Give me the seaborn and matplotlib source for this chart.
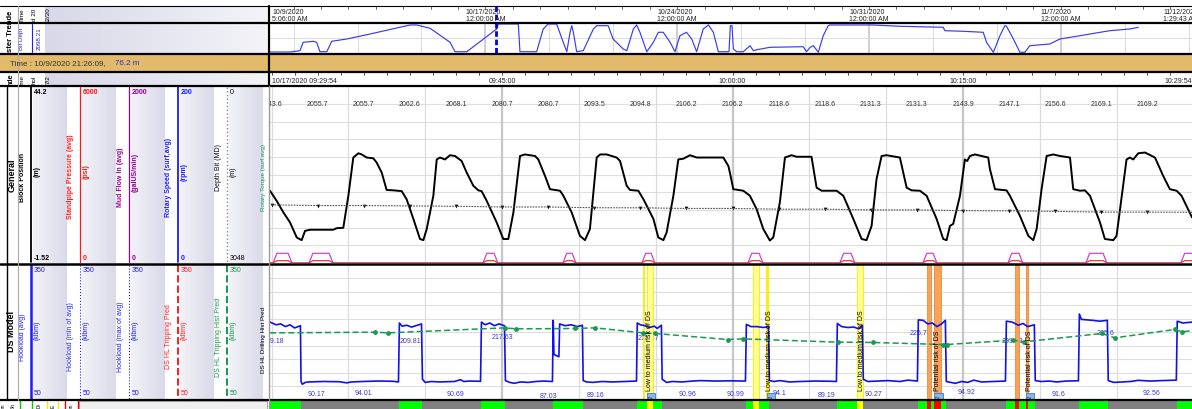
import matplotlib
matplotlib.use("Agg")
import matplotlib.pyplot as plt
import matplotlib.colors as mcolors
import numpy as np
import pandas as pd
import seaborn as sns

# ---------------- data ----------------
# master trender: days after 10/9/2020 05:06, bit depth (m)
trend_day = [-0.07, 0.66, 1.02, 1.14, 1.51, 1.63, 1.75, 2.00, 2.18, 2.73,
             3.58, 5.04, 5.28, 5.77, 6.50, 6.68, 7.11, 8.20, 8.26, 8.99,
             9.05, 9.66, 9.90, 10.08, 10.39, 10.63, 10.76, 10.88, 10.94, 11.00,
             11.12, 11.36, 11.73, 11.85, 12.27, 12.45, 12.82, 12.95, 13.19, 13.31,
             13.43, 13.68, 13.92, 14.10, 14.28, 14.53, 14.71, 14.89, 15.13, 15.32,
             15.50, 15.74, 15.93, 16.11, 16.29, 16.68, 16.73, 16.79, 16.84, 16.96,
             17.20, 17.45, 17.57, 17.69, 18.18, 19.39, 19.51, 19.64, 19.76, 19.94,
             20.12, 20.30, 20.36, 21.95, 22.92, 24.50, 24.56, 25.23, 25.96, 26.08,
             26.33, 26.57, 26.75, 26.81, 27.06, 27.30, 27.48, 27.66, 28.39, 28.76,
             29.49, 30.58, 31.31, 31.62]
trend_depth = [76, 76, 176, 821, 897, 821, 100, 100, 897, 1074,
               1457, 2148, 2148, 1894, 821, 100, 100, 1841, 2224, 2224,
               100, 100, 1841, 2224, 2224, 821, 100, 1588, 2094, 1588,
               100, 176, 1841, 2094, 2094, 1074, 307, 176, 1841, 2148,
               1588, 100, 821, 1588, 1588, 821, 100, 1327, 1588, 1074,
               100, 1841, 2148, 1588, 100, 100, 2094, 2094, 307, 100,
               100, 560, 176, 253, 437, 483, 100, 437, 560, 54,
               1327, 2094, 2148, 2148, 2048, 1971, 1710, 1664, 1588, 821,
               54, 1327, 2094, 2048, 1074, 54, 54, 560, 690, 1074,
               1327, 1710, 1841, 1971]
trend_tick_day = [0, 7.7875, 14.7875, 21.7875, 28.7875, 33.85]
trend_tick_text = ['10/9/2020\n5:06:00 AM', '10/17/2020\n12:00:00 AM', '10/24/2020\n12:00:00 AM',
                   '10/31/2020\n12:00:00 AM', '11/7/2020\n12:00:00 AM', '11/12/2020\n1:29:43 AM']
cursor_day = 8.18
cursor_text = 'Time : 10/9/2020 21:26:09,'
cursor_depth = 76.2

# detail window: minutes after 10/17/2020 09:29:54
time_tick_min = [0.13, 15.1, 30.1, 45.1, 60]
time_tick_text = ['10/17/2020 09:29:54', '09:45:00', '10:00:00', '10:15:00', '10:29:54']

# block position (m)
bp_t = [0.00, 0.43, 0.87, 1.30, 1.74, 2.06, 2.28, 2.60, 4.12, 4.34,
        4.77, 5.10, 5.42, 5.75, 5.97, 6.29, 6.72, 6.94, 7.27, 7.59,
        8.03, 8.57, 8.89, 9.33, 9.76, 9.98, 10.20, 10.63, 10.85, 11.06,
        11.39, 11.71, 12.04, 12.47, 12.80, 13.23, 13.56, 13.77, 14.10, 14.75,
        15.18, 15.51, 15.84, 16.27, 16.59, 17.25, 17.46, 17.90, 18.22, 18.87,
        19.09, 19.63, 20.17, 20.50, 20.82, 21.26, 21.48, 21.91, 22.56, 22.78,
        23.21, 23.43, 23.97, 24.30, 24.95, 25.27, 25.60, 25.81, 26.25, 26.57,
        26.90, 27.33, 27.77, 29.50, 29.83, 29.95, 30.15, 30.80, 31.23, 31.67,
        32.10, 32.53, 32.75, 33.18, 33.51, 33.94, 34.27, 35.24, 35.57, 35.90,
        36.87, 37.31, 37.96, 38.50, 38.82, 39.15, 39.47, 39.80, 40.12, 40.99,
        41.43, 41.75, 42.29, 42.73, 43.38, 43.81, 44.03, 44.25, 44.46, 44.90,
        45.22, 45.37, 45.55, 45.87, 46.74, 46.85, 47.18, 47.93, 48.15, 48.80,
        49.35, 49.67, 49.89, 50.21, 50.54, 50.97, 51.41, 52.06, 52.27, 52.71,
        53.03, 53.36, 54.01, 54.33, 54.88, 55.09, 55.74, 55.96, 56.18, 56.50,
        56.94, 57.59, 58.13, 58.56, 59.00, 59.32, 60.00]
bp_v = [17.2, 14.6, 11.6, 9.0, 5.1, 4.4, 6.8, 7.1, 7.1, 7.5,
        7.6, 15.9, 25.8, 26.9, 26.6, 25.8, 25.6, 24.5, 21.9, 17.4,
        17.3, 17.1, 15.0, 9.9, 4.7, 4.4, 7.3, 15.9, 25.3, 25.8,
        25.3, 26.4, 26.2, 24.9, 21.9, 18.5, 17.3, 17.1, 14.6, 9.0,
        4.7, 4.7, 11.6, 26.2, 26.6, 26.2, 25.3, 21.0, 17.6, 17.2,
        15.9, 11.6, 5.5, 4.4, 7.3, 25.8, 26.6, 26.6, 25.8, 24.9,
        18.5, 17.4, 17.2, 15.0, 9.9, 5.1, 4.4, 6.4, 15.9, 25.3,
        25.5, 26.4, 25.8, 25.8, 23.6, 21.5, 17.6, 17.2, 15.9, 12.4,
        7.3, 4.3, 5.1, 14.2, 25.8, 26.4, 26.0, 26.0, 18.0, 17.2,
        17.2, 15.9, 9.9, 4.7, 4.4, 8.1, 20.2, 26.2, 26.4, 25.8,
        18.0, 17.3, 17.2, 15.9, 9.9, 4.7, 4.4, 8.1, 8.6, 15.9,
        25.3, 24.9, 26.2, 26.6, 25.8, 22.8, 17.6, 17.3, 15.9, 10.7,
        5.5, 4.4, 7.3, 17.6, 26.2, 26.6, 26.2, 25.8, 17.6, 17.2,
        17.3, 15.9, 9.0, 4.7, 4.4, 5.5, 25.3, 25.8, 25.3, 26.9,
        27.1, 25.8, 21.0, 17.6, 17.2, 15.9, 10.3]

# depth bit (m), one reading every 3 min
depth_t = [0.1, 3.1, 6.1, 9.1, 12.1, 15.1, 18.1, 21.1, 24.1, 27.1,
           30.1, 33.1, 36.1, 39.1, 42.1, 45.1, 48.1, 51.1, 54.1, 57.1]
depth_v = [2043.6, 2055.7, 2055.7, 2062.6, 2068.1, 2080.7, 2080.7, 2093.5, 2094.8, 2106.2,
           2106.2, 2118.6, 2118.6, 2131.3, 2131.3, 2143.9, 2147.1, 2156.6, 2169.1, 2169.2]
depth_end = (60.0, 2172.0)

# pumps on/off (min), mud flow in (galUS/min) and standpipe pressure (psi)
pump_on = [0.20, 2.54, 13.86, 19.06, 24.20, 31.10, 37.08, 42.49, 48.02, 53.09, 59.27]
pump_off = [1.43, 4.10, 14.83, 19.91, 25.05, 32.08, 38.06, 43.40, 48.99, 54.46, 60.5]
flow_peak = 110
spp_peak = 80

# hookload avg (klbm)
hl_t = [0, 0.4, 0.7, 1.0, 1.3, 1.6, 1.98,
        2.02, 2.1, 2.3, 2.5, 3.5, 4.5, 5.0, 5.3, 6.0, 7.0, 8.0, 8.36,
        8.42, 8.6, 8.9, 9.2, 9.5, 9.86,
        9.92, 10.1, 10.5, 11.0, 11.5, 12.0, 12.4, 12.6, 13.0, 13.7,
        13.76, 14.0, 14.3, 14.6, 14.9, 15.26,
        15.32, 15.6, 15.9, 16.3, 16.8, 17.3, 17.8, 18.38,
        18.43, 18.48, 18.8, 18.85, 19.2, 19.6, 20.0, 20.33,
        20.38, 20.6, 21.0, 21.6, 22.3, 23.0, 23.85,
        23.9, 24.1, 24.4, 24.7, 25.0, 25.2, 25.47,
        25.52, 25.8, 26.2, 26.8, 27.5, 28.0, 29.0, 30.0, 30.94,
        31.0, 31.3, 31.7, 32.1, 32.44,
        32.5, 32.8, 33.2, 33.8, 34.5, 35.5, 36.5, 36.86,
        36.92, 37.2, 37.6, 38.0, 38.3, 38.55,
        38.61, 38.9, 39.5, 40.2, 41.0, 41.5, 42.13,
        42.19, 42.5, 42.8, 43.1, 43.4, 43.7, 43.95,
        44.01, 44.3, 44.6, 45.0, 45.4, 45.8, 46.3, 47.0, 47.86,
        47.92, 48.3, 48.7, 49.0, 49.3, 49.74,
        49.8, 50.2, 50.7, 51.2, 51.8, 52.61,
        52.67, 52.8, 53.5, 54.0, 54.49,
        54.55, 54.9, 55.4, 56.0, 56.5, 57.3, 58.0, 58.98,
        59.04, 59.4, 60.0]
hl_v = [222, 216, 218, 212, 216, 209, 214,
        90, 84, 88, 89, 90, 89.5, 87, 89, 90, 91, 90.5, 89,
        220, 213, 215, 211, 214, 218,
        95, 88, 90, 89, 89.5, 90, 94, 90, 91, 90.5,
        222, 216, 220, 214, 218, 214,
        92, 88, 86, 89, 88, 90, 91, 90,
        226, 150, 145, 218, 214, 216, 212, 215,
        92, 89, 88, 90, 89, 90, 91,
        220, 216, 214, 210, 213, 208, 215,
        95, 88, 90, 89, 91, 92, 91, 91.5, 91,
        217, 212, 212, 210, 212,
        92, 90, 92, 89, 90, 91, 90.5, 90,
        219, 212, 210, 211, 207, 215,
        95, 90, 91, 92, 90, 93, 91,
        227, 226, 218, 220, 212, 218, 226,
        90, 88, 86, 90, 88, 93, 89, 90, 91,
        224, 222, 215, 219, 212, 216,
        92, 90, 91, 89, 91, 91.6,
        240, 228, 226, 224, 226,
        92, 88, 89, 90, 92.6, 91, 92, 93,
        224, 220, 222]

# high hookload periods (min)
hi_start = [0, 8.39, 13.73, 18.41, 23.88, 30.97, 36.89, 42.16, 47.89, 52.64, 59.01]
hi_end = [2.0, 9.89, 15.29, 20.36, 25.50, 32.47, 38.58, 43.98, 49.77, 54.52, 60]

# DS HL tripping hist pred (klbm)
hist_t = [0, 6.83, 7.68, 15.29, 16.0, 19.84, 21.15, 24.27, 25.05, 29.8, 30.77,
          36.96, 39.23, 43.79, 44.05, 48.34, 49.06, 54.13, 54.98, 58.88, 59.34, 60]
hist_v = [198, 199.6, 198.1, 209.2, 207.0, 207.8, 209.2, 198.1, 196.7, 183.3, 184.8,
          177.4, 176.7, 172.2, 172.2, 181.8, 178.1, 196.7, 187.0, 205.6, 200.4, 203]

# hookload value labels
hi_lab_t = [-0.5, 8.46, 14.44, 23.95, 41.64, 47.63, 53.8]
hi_lab_v = [209.18, 209.81, 217.63, 215.47, 225.79, 209.63, 225.6]
lo_lab_t = [2.47, 5.53, 11.52, 17.57, 20.62, 26.61, 29.7, 32.7, 35.65, 38.71, 44.76, 50.88, 56.8]
lo_lab_v = [90.17, 94.01, 90.69, 87.03, 89.16, 90.96, 90.99, 94.1, 89.19, 90.27, 94.92, 91.6, 92.56]

# DS risk events
low_risk_bands = [(24.27, 24.37), (24.53, 24.92), (31.42, 31.82), (32.30, 32.40), (38.19, 38.58)]
high_risk_bands = [(42.75, 43.00), (43.20, 43.66), (48.47, 48.73), (49.19, 49.32)]
risk_text_t = [24.72, 32.5, 38.5, 43.46, 49.45]
risk_text = ['Low to medium risk of DS'] * 3 + ['Potential risk of DS'] * 2
flag_t = [24.82, 32.6, 43.5, 49.45]

# track scales
bp_range = (-1.52, 44.2)
spp_range = (0, 6000)
flow_range = (0, 2000)
rpm_range = (0, 200)
depth_range = (0, 3048)
hl_range = (50, 350)

# ---------------- drawing ----------------
sns.set_style("white")
plt.rcParams['font.family'] = ['Liberation Sans', 'DejaVu Sans']
plt.rcParams['font.size'] = 5

W, H = 1192, 410


def rect(x0, y0, x1, y1):
    return [x0 / W, 1 - y1 / H, (x1 - x0) / W, (y1 - y0) / H]


def bare(ax):
    ax.set_xticks([])
    ax.set_yticks([])
    ax.set_xlabel('')
    ax.set_ylabel('')
    for s in ax.spines.values():
        s.set_visible(False)


def line(ax, x, y, **kw):
    sns.lineplot(x=x, y=y, ax=ax, estimator=None, sort=False, legend=False, **kw)


fig = plt.figure(figsize=(W / 100, H / 100), dpi=100)

# ---- left header panel ----
lp = fig.add_axes([0, 0, 269 / W, 1])


def grad(x0, x1, y0, y1, c0, c1):
    a = np.array(mcolors.to_rgb(c0))
    b = np.array(mcolors.to_rgb(c1))
    f = np.linspace(0, 1, 50)[None, :, None]
    lp.imshow(a + (b - a) * f, extent=(x0, x1, y1, y0), aspect='auto',
              interpolation='bilinear', zorder=0)


for y0, y1 in [(7, 24), (24, 54), (73, 87)]:
    grad(45, 267, y0, y1, '#D8D8E8', '#F3F3F8')
cols = [31, 80, 129, 178, 227]
for c in cols:
    grad(c + 2, c + 36, 88, 264, '#F2F2F8', '#DADAE9')
    grad(c + 2, c + 36, 265, 400, '#F2F2F8', '#DADAE9')
lp.add_patch(plt.Rectangle((79, 402), 188, 8, fc='#EFEFEF', ec='#999999', lw=0.6))
lp.set_xlim(0, 269)
lp.set_ylim(410, 0)
lp.axis('off')


def vtext(x, y, s, color='black', bold=False, size=5):
    lp.text(x, y, s, rotation=90, ha='center', va='center', color=color,
            fontsize=size, fontweight='bold' if bold else 'normal', clip_on=True)


# trender rows
vtext(11, 31, 'ster Trende', bold=True, size=5.5)
vtext(22, 15, 'Time', size=4.5)
vtext(34, 15, 'd 20', size=4.5)
vtext(48, 15, '12/20', size=4.5)
vtext(22, 39, 'Bit Dept', color='#2222DD', size=4.5)
vtext(39, 39, '2098.21', color='#2222DD', size=4.5)
lp.plot([32, 32], [25, 53], color='#2222DD', lw=0.8)
vtext(11, 80, 'nde', bold=True, size=5)
vtext(22, 80, 'ime', size=4.5)
vtext(34, 80, 'hol', size=4.5)
vtext(48, 80, '7/2', size=4.5)

vtext(12, 175, 'General', bold=True, size=6.5)
vtext(12, 332, 'DS Model', bold=True, size=6.5)

gen_names = ['Block Position', 'Standpipe Pressure (avg)', 'Mud Flow In (avg)',
             'Rotary Speed (surf,avg)', 'Depth Bit (MD)']
gen_units = ['(m)', '(psi)', '(galUS/min)', '(rpm)', '(m)']
gen_colors = ['black', '#FF1A1A', '#990099', '#1A1AFF', 'black']
gen_bold = [True, True, True, True, False]
gen_top = [bp_range[1], spp_range[1], flow_range[1], rpm_range[1], depth_range[0]]
gen_bot = [bp_range[0], spp_range[0], flow_range[0], rpm_range[0], depth_range[1]]
gen_ls = ['-', '-', '-', '-', ':']
gen_lw = [1.3, 0.9, 0.9, 1.3, 1.0]
for c, n, u, col, b, top, bot, ls, lw in zip(cols, gen_names, gen_units, gen_colors, gen_bold,
                                             gen_top, gen_bot, gen_ls, gen_lw):
    lc = '#888888' if ls == ':' else col
    lp.plot([c, c], [88, 263], color=lc, ls=ls, lw=lw)
    vtext(c - 9, 177 if b else 168, n, color=col, bold=b)
    vtext(c + 6, 172, u, color=col, bold=b)
    lp.text(c + 3, 92, f'{top:g}', color=col, fontweight='bold' if b else 'normal',
            fontsize=5, va='center')
    lp.text(c + 3, 259, f'{bot:g}', color=col, fontweight='bold' if b else 'normal',
            fontsize=5, va='center')
vtext(263.5, 177, 'Rotary Torque (surf,avg)', color='#139A4A', size=4.5)

ds_names = ['Hookload (avg)', 'Hookload (min of avg)', 'Hookload (max of avg)',
            'DS HL Tripping Pred', 'DS HL Tripping Hist Pred']
ds_colors = ['#1A1AFF', '#1A1AFF', '#1A1AFF', '#FF1A1A', '#139A4A']
ds_ls = ['-', ':', ':', '--', '--']
ds_lw = [1.8, 0.8, 0.8, 1.4, 1.4]
for c, n, col, ls, lw in zip(cols, ds_names, ds_colors, ds_ls, ds_lw):
    lp.plot([c, c], [266, 400], color=col, ls=ls, lw=lw)
    vtext(c - 9, 337, n, color=col)
    vtext(c + 6, 330, '(klbm)', color=col)
    lp.text(c + 3, 271, f'{hl_range[1]:g}', color=col, fontsize=5, va='center')
    lp.text(c + 3, 394, f'{hl_range[0]:g}', color=col, fontsize=5, va='center')
vtext(263, 340, 'DS HL Drilling Hist Pred', size=4.5)

# bottom-left legend strip
for x, s in [(3, 'an'), (13, 'Sh'), (39, 'Di'), (53, 'E'), (71, 'an')]:
    vtext(x, 406, s, size=3.5)
for x, col in [(20, '#00CC00'), (32, '#00CC00'), (47, '#FFE600'), (58, '#FFE600'),
               (65, '#FF0000'), (78, '#FF0000')]:
    lp.plot([x, x], [402, 410], color=col, lw=1)

# ---- master trend ----
ax_t = fig.add_axes(rect(270, 24, 1192, 54))
for d in np.arange(trend_tick_day[1] - 7, 34, 7 / 3):
    weekly = any(abs(d - w) < 0.01 for w in trend_tick_day)
    ax_t.axvline(d, color='#C8C8C8' if weekly else '#DEDEDE', lw=1.2 if weekly else 0.8, zorder=0)
ax_t.axhline(1150, color='#DEDEDE', lw=0.8, zorder=0)
line(ax_t, trend_day, trend_depth, color='#3B3BF0', lw=0.85)
bare(ax_t)
ax_t.set_xlim(-0.073, 33.58)
ax_t.set_ylim(0, 2300)
tr = ax_t.get_xaxis_transform()
for i, (d, s) in enumerate(zip(trend_tick_day, trend_tick_text)):
    ha = 'left' if i == 0 else ('right' if i == len(trend_tick_day) - 1 else 'center')
    ax_t.text(d, 1.27, s, transform=tr, ha=ha, va='center', multialignment='left',
              fontsize=5, linespacing=1.0, color='#222222', clip_on=False)
for d in np.arange(0.7875, 33.6, 1):
    ax_t.plot([d, d], [1.57, 1.47], transform=tr, color='#555555', lw=0.6, clip_on=False)
ax_t.axvline(cursor_day, ymin=0, ymax=(54 - 7) / 30, color='#0000EE', lw=2,
             ls=(0, (2, 1)), clip_on=False)

# ---- gold time bar, borders ----
ov = fig.add_axes([0, 0, 1, 1], zorder=20)
ov.set_xlim(0, W)
ov.set_ylim(H, 0)
ov.axis('off')
ov.add_patch(plt.Rectangle((0, 55), W, 17, color='#E2BA6B', zorder=0))
ov.text(10, 63.5, cursor_text, va='center', fontsize=5.8, color='#333333')
ov.text(115, 63.5, f'{cursor_depth:.1f} m', va='center', fontsize=5.8, color='#3030C0')
for y, lw in [(7, 0.8), (24, 1.6), (54.5, 1.6), (72.5, 1.6), (87, 1.6), (264.5, 1.8), (401, 1.6)]:
    ov.plot([0, W], [y, y], color='black', lw=lw)
ov.plot([268.5, 268.5], [7, 87], color='black', lw=1.6)
ov.plot([268.5, 268.5], [87, 410], color='#999999', lw=1)
ov.plot([7, 7], [87, 401], color='black', lw=1)
ov.plot([17.5, 17.5], [7, 401], color='#AAAAAA', lw=0.8)

# ---- time header ----
ax_h = fig.add_axes(rect(270, 73, 1192, 87))
ax_h.set_xlim(0, 60)
ax_h.set_ylim(0, 1)
ax_h.axis('off')
for i, (t, s) in enumerate(zip(time_tick_min, time_tick_text)):
    ha = 'left' if i == 0 else ('right' if i == len(time_tick_min) - 1 else 'center')
    ax_h.text(t, 0.42, s, ha=ha, va='center', fontsize=5, color='#222222')
for t in np.arange(0.1, 60, 1.5):
    ax_h.plot([t, t], [1, 0.78], color='#444444', lw=0.6)

grid_t = np.arange(0.1, 60, 5)


def vgrid(ax):
    for t in grid_t:
        major = abs((t - 0.1) % 15) < 0.01 and t > 1
        ax.axvline(t, color='#C6C6C6' if major else '#DCDCDC', lw=1.6 if major else 0.9, zorder=0)


# ---- general track ----
ax_g = fig.add_axes(rect(270, 87.5, 1192, 264))
for y in np.linspace(bp_range[0], bp_range[1], 11)[1:-1]:
    ax_g.axhline(y, color='#DEDEDE', lw=0.8, zorder=0)
vgrid(ax_g)
line(ax_g, bp_t, bp_v, color='black', lw=1.4)
bare(ax_g)
ax_g.set_xlim(0, 60)
ax_g.set_ylim(*bp_range)
for t, v in zip(depth_t, depth_v):
    ax_g.text(t, 0.904, f'{v:.1f}', transform=ax_g.get_xaxis_transform(), ha='center',
              va='center', fontsize=5, color='#333333', clip_on=True)

ax_d = ax_g.twinx()
line(ax_d, depth_t + [depth_end[0]], depth_v + [depth_end[1]], color='#555555', lw=0.8,
     linestyle=(0, (1.5, 1)))
sns.scatterplot(x=depth_t, y=depth_v, ax=ax_d, marker='v', s=7, color='black', linewidth=0)
bare(ax_d)
ax_d.set_ylim(depth_range[1], depth_range[0])

flow_t, flow_v, spp_v = [0], [0], [0]
for a, b in zip(pump_on, pump_off):
    flow_t += [a, a + 0.25, b - 0.25, b]
    flow_v += [0, flow_peak, flow_peak, 0]
    spp_v += [0, spp_peak, spp_peak, 0]
ax_f = ax_g.twinx()
line(ax_f, flow_t, flow_v, color='#CC44CC', lw=0.9)
bare(ax_f)
ax_f.set_ylim(*flow_range)
ax_p = ax_g.twinx()
line(ax_p, flow_t, spp_v, color='#FF3030', lw=0.9)
bare(ax_p)
ax_p.set_ylim(*spp_range)
ax_g.set_xlim(0, 60)

# ---- DS model track ----
ax_s = fig.add_axes(rect(270, 265.5, 1192, 400.5))
for y in np.linspace(hl_range[0], hl_range[1], 11)[1:-1]:
    ax_s.axhline(y, color='#DEDEDE', lw=0.8, zorder=0)
vgrid(ax_s)
for a, b in low_risk_bands:
    narrow = b - a < 0.15
    ax_s.axvspan(a, b, fc='#FFF200' if narrow else '#FFFF90', ec='#FFE800', lw=0.6, zorder=1.6)
for a, b in high_risk_bands:
    ax_s.axvspan(a, b, fc='#F6A25C', ec='#F08A2E', lw=0.6, zorder=1.6)
for t, v in zip(hi_lab_t + lo_lab_t, hi_lab_v + lo_lab_v):
    ax_s.annotate(f'{v:g}', (t, v), xytext=(0, -9), textcoords='offset points', ha='left',
                  va='center', fontsize=5, color='#3A3AD8', zorder=1.5,
                  annotation_clip=False, clip_on=True)
line(ax_s, hl_t, hl_v, color='#1010F0', lw=1.2, zorder=3)
line(ax_s, hist_t, hist_v, color='#1A9A50', lw=1.1, linestyle=(0, (4, 2)), zorder=3.2)
hist = pd.DataFrame({'t': hist_t, 'v': hist_v}).iloc[1:-1]
sns.scatterplot(data=hist, x='t', y='v', ax=ax_s, s=12, color='#1A9A50', linewidth=0, zorder=3.3)
xt = ax_s.get_xaxis_transform()
for t, s in zip(risk_text_t, risk_text):
    ax_s.text(t, 0.074, s, rotation=90, ha='center', va='bottom', transform=xt,
              fontsize=5, color='black', zorder=5)
for t in flag_t:
    ax_s.text(t, 0.026, '2', rotation=90, ha='center', va='center', transform=xt,
              fontsize=4.5, color='#12346B', zorder=6,
              bbox=dict(boxstyle='square,pad=0.25', fc='#86B8E8', ec='#3D7CC9', lw=0.6))
bare(ax_s)
ax_s.set_xlim(0, 60)
ax_s.set_ylim(*hl_range)

# ---- activity strip ----
ax_b = fig.add_axes(rect(270, 402, 1192, 410))
ax_b.axvspan(0, 60, color='#808080', lw=0)
for a, b in zip(hi_start, hi_end):
    ax_b.axvspan(a, b, color='#00FF00', lw=0)
for a, b in low_risk_bands:
    if b - a >= 0.15:
        ax_b.axvspan(a, b, color='#FFFF00', lw=0)
for a, b in high_risk_bands:
    ax_b.axvspan(a, b, color='#FF0000', lw=0)
bare(ax_b)
ax_b.set_xlim(0, 60)
ax_b.set_ylim(0, 1)

fig.savefig('out.png', dpi=100)
